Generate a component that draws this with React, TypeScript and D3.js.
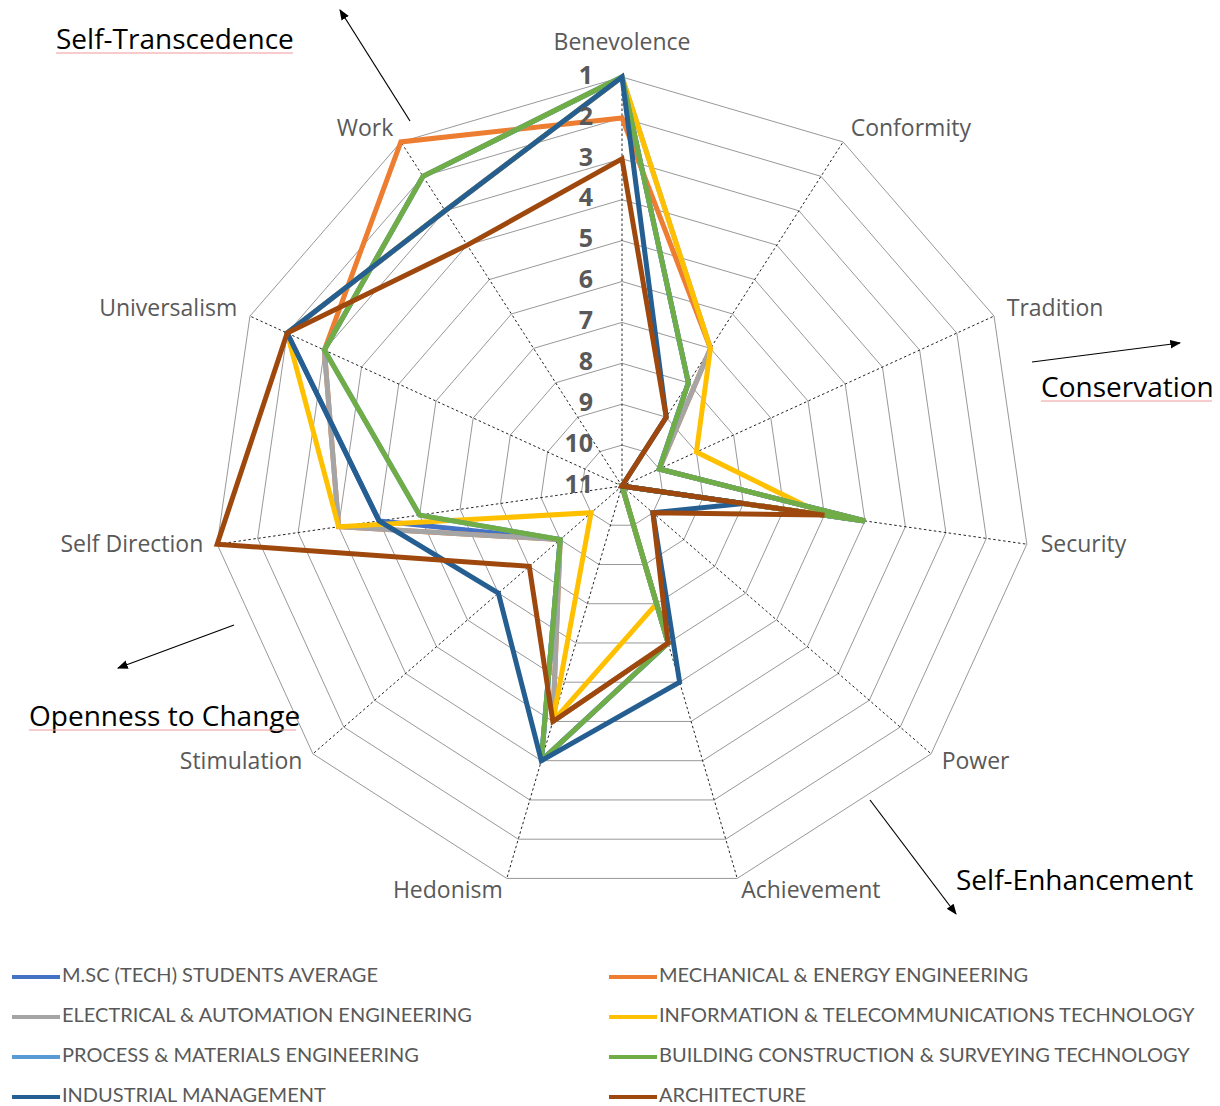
import React from 'react';
import * as d3 from 'd3';

// value axes, clockwise from the top
const axes = ['Benevolence', 'Conformity', 'Tradition', 'Security', 'Power', 'Achievement',
  'Hedonism', 'Stimulation', 'Self Direction', 'Universalism', 'Work'];

const rankTicks = [1, 2, 3, 4, 5, 6, 7, 8, 9, 10, 11];

// ranks per group (1 = most important), same order as axes
const avgRanks = [1, 8, 10, 5, 11, 7, 4, 9, 5, 2, 3];
const mechRanks = [2, 7, 10, 5, 11, 7, 5, 9, 4, 3, 1];
const elecRanks = [1, 7, 10, 5, 11, 7, 5, 9, 4, 3, 2];
const ictRanks = [1, 7, 9, 6, 11, 8, 5, 10, 4, 2, 3];
const processRanks = [1, 8, 10, 5, 11, 7, 4, 9, 6, 3, 2];
const buildingRanks = [1, 8, 10, 5, 11, 7, 4, 9, 6, 3, 2];
const industrialRanks = [1, 9, 11, 8, 10, 6, 4, 7, 5, 2, 3];
const archRanks = [3, 9, 11, 6, 10, 7, 5, 8, 1, 2, 4];

const seriesNames = [
  'M.SC (TECH) STUDENTS AVERAGE',
  'MECHANICAL & ENERGY ENGINEERING',
  'ELECTRICAL & AUTOMATION ENGINEERING',
  'INFORMATION & TELECOMMUNICATIONS TECHNOLOGY',
  'PROCESS & MATERIALS ENGINEERING',
  'BUILDING CONSTRUCTION & SURVEYING TECHNOLOGY',
  'INDUSTRIAL MANAGEMENT',
  'ARCHITECTURE',
];
const seriesValues = [avgRanks, mechRanks, elecRanks, ictRanks, processRanks, buildingRanks, industrialRanks, archRanks];
const seriesColors = ['#4472C4', '#ED7D31', '#A5A5A5', '#FFC000', '#5B9BD5', '#70AD47', '#255E91', '#9E480E'];

const W = 1220;
const H = 1106;
const cx = 622;
const cy = 486;
const R = 409;

const App = () => {
  const rScale = d3.scaleLinear().domain([11, 1]).range([0, R]);
  const angle = d3.scaleLinear().domain([0, axes.length]).range([0, 2 * Math.PI]);

  const pt = (i, r) => [Math.sin(angle(i)) * r, -Math.cos(angle(i)) * r];

  const ring = (v) => axes.map((_, i) => pt(i, rScale(v)).join(',')).join(' ');

  const line = d3.lineRadial()
    .angle((d, i) => angle(i))
    .radius(d => rScale(d))
    .curve(d3.curveLinearClosed);

  const openFont = '"Open Sans", Lato, sans-serif';
  const latoFont = 'Lato, "Open Sans", sans-serif';

  return (
    <svg width={W} height={H} style={{ position: 'absolute', left: 0, top: 0, background: '#fff' }}>
      <defs>
        <marker id="arr" viewBox="0 0 10 10" refX="9" refY="5" markerWidth="9" markerHeight="9" orient="auto">
          <path d="M0,1 L10,5 L0,9 z" fill="#000" />
        </marker>
      </defs>

      <g transform={`translate(${cx},${cy})`}>
        {/* rings */}
        {rankTicks.slice(0, 10).map(v => (
          <polygon key={v} points={ring(v)} fill="none" stroke="#8c8c8c" strokeWidth={0.9} />
        ))}
        {/* spokes */}
        {axes.map((a, i) => {
          const [x, y] = pt(i, R);
          return <line key={a} x1={0} y1={0} x2={x} y2={y} stroke="#222" strokeWidth={1} strokeDasharray="2.5,2.5" />;
        })}

        {/* axis labels */}
        {axes.map((a, i) => {
          const s = Math.sin(angle(i));
          const c = Math.cos(angle(i));
          const [x, y] = pt(i, R + 14);
          const anchor = s > 0.1 ? 'start' : s < -0.1 ? 'end' : 'middle';
          const dy = c > 0.95 ? -19 : 0;
          return (
            <text key={a} x={x} y={y + dy} textAnchor={anchor} dominantBaseline="middle"
              fontFamily={openFont} fontSize={23} fill="#595959">{a}</text>
          );
        })}

        {/* series */}
        {seriesValues.map((vals, k) => (
          <path key={seriesNames[k]} d={line(vals)} fill="none" stroke={seriesColors[k]}
            strokeWidth={5} strokeLinejoin="miter" strokeMiterlimit={2} />
        ))}

        {/* rank ticks */}
        {rankTicks.map(v => (
          <text key={v} x={-29} y={-rScale(v)} textAnchor="end" dominantBaseline="middle"
            fontFamily={openFont} fontWeight="bold" fontSize={25} fill="#595959">{v}</text>
        ))}
      </g>

      {/* dimension annotations */}
      <g fontFamily={openFont} fill="#000" fontSize={28}>
        <text x={56} y={49}>Self-Transcedence</text>
        <text x={1041} y={397}>Conservation</text>
        <text x={29} y={726}>Openness to Change</text>
        <text x={956} y={890}>Self-Enhancement</text>
      </g>
      <g stroke="#f29a9a" strokeWidth={1.2}>
        <line x1={56} y1={53} x2={293} y2={53} />
        <line x1={1041} y1={401} x2={1212} y2={401} />
        <line x1={29} y1={730} x2={296} y2={730} />
      </g>
      <g stroke="#000" strokeWidth={1.2} markerEnd="url(#arr)">
        <line x1={410} y1={121} x2={340} y2={10} />
        <line x1={1032} y1={362} x2={1180} y2={343} />
        <line x1={234} y1={625} x2={118} y2={668} />
        <line x1={870} y1={800} x2={956} y2={914} />
      </g>

      {/* legend */}
      <g fontFamily={latoFont} fontSize={20} fill="#595959">
        {seriesNames.map((n, k) => {
          const col = k % 2;
          const row = Math.floor(k / 2);
          const x0 = col === 0 ? 12 : 609;
          const y0 = 977 + row * 40;
          return (
            <g key={n}>
              <line x1={x0} x2={x0 + 48} y1={y0} y2={y0} stroke={seriesColors[k]} strokeWidth={4} />
              <text x={x0 + 50} y={y0} dominantBaseline="middle">{n}</text>
            </g>
          );
        })}
      </g>
    </svg>
  );
};

export default App;
